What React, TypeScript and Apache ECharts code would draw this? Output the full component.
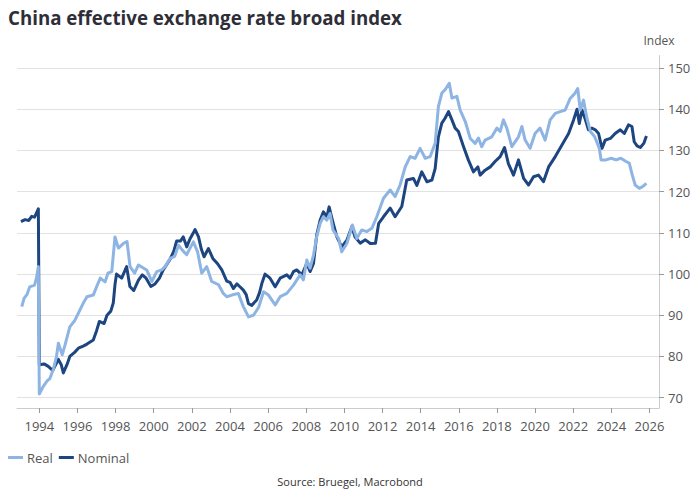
import React, { useEffect, useRef } from "react";
import * as echarts from "echarts";

const realData: [number, number][] = [
  [1993.08, 92.1], [1993.2, 94.1], [1993.35, 95.0], [1993.5, 96.9], [1993.75, 97.3], [1993.85, 99.0], [1993.95, 101.8],
  [1994.0, 70.9], [1994.2, 72.7], [1994.4, 74.0], [1994.56, 74.7], [1994.75, 77.1], [1994.9, 80.0], [1995.0, 83.2],
  [1995.2, 80.4], [1995.35, 82.8], [1995.6, 87.2], [1995.87, 88.8], [1996.05, 90.5], [1996.3, 92.9], [1996.5, 94.5],
  [1996.83, 94.9], [1997.04, 97.3], [1997.2, 99.0], [1997.45, 98.1], [1997.6, 100.2], [1997.8, 100.6], [1997.97, 109.0],
  [1998.15, 106.3], [1998.4, 107.4], [1998.6, 107.9], [1998.76, 101.8], [1999.0, 100.2], [1999.2, 102.2], [1999.63, 101.0],
  [1999.9, 98.2], [2000.16, 100.6], [2000.42, 101.0], [2000.6, 101.8], [2000.86, 103.8], [2001.1, 104.3], [2001.3, 107.0],
  [2001.5, 105.8], [2001.73, 104.7], [2002.08, 107.8], [2002.3, 105.4], [2002.52, 100.2], [2002.78, 101.8], [2003.04, 98.2],
  [2003.4, 97.4], [2003.65, 95.3], [2003.83, 94.5], [2004.1, 94.9], [2004.44, 95.3], [2004.7, 92.1], [2004.97, 89.6],
  [2005.23, 90.0], [2005.5, 91.9], [2005.76, 95.7], [2006.02, 94.9], [2006.37, 92.5], [2006.63, 94.5], [2006.98, 95.3],
  [2007.33, 97.3], [2007.68, 99.8], [2007.85, 98.6], [2008.03, 103.4], [2008.2, 101.4], [2008.38, 104.6], [2008.55, 109.1],
  [2008.73, 112.3], [2008.9, 113.9], [2009.08, 113.1], [2009.25, 114.7], [2009.4, 110.7], [2009.7, 108.6], [2009.86, 105.4],
  [2010.13, 107.4], [2010.42, 111.9], [2010.65, 108.6], [2010.91, 110.7], [2011.18, 110.3], [2011.44, 111.1], [2011.7, 113.9],
  [2012.05, 118.4], [2012.4, 120.4], [2012.66, 118.8], [2012.92, 121.6], [2013.19, 126.0], [2013.45, 128.5], [2013.71, 128.1],
  [2013.97, 130.5], [2014.24, 128.1], [2014.5, 128.5], [2014.76, 131.7], [2014.93, 140.6], [2015.11, 143.9], [2015.28, 144.7],
  [2015.5, 146.3], [2015.64, 142.7], [2015.9, 143.1], [2016.07, 139.8], [2016.34, 137.0], [2016.6, 132.9], [2016.86, 131.7],
  [2017.03, 133.0], [2017.2, 130.9], [2017.38, 132.5], [2017.73, 133.3], [2018.0, 135.4], [2018.17, 134.6], [2018.34, 137.4],
  [2018.52, 135.4], [2018.78, 130.9], [2019.13, 133.3], [2019.31, 135.8], [2019.48, 132.5], [2019.74, 130.5], [2020.0, 134.1],
  [2020.26, 135.4], [2020.53, 132.5], [2020.79, 137.4], [2021.06, 139.0], [2021.32, 139.4], [2021.58, 139.8], [2021.84, 142.6],
  [2022.1, 143.9], [2022.24, 145.0], [2022.37, 139.8], [2022.54, 142.2], [2022.72, 137.8], [2022.9, 134.6], [2023.1, 133.5],
  [2023.2, 132.5], [2023.37, 130.5], [2023.46, 127.7], [2023.72, 127.7], [2023.99, 128.1], [2024.25, 127.7], [2024.5, 128.1],
  [2024.77, 127.3], [2024.94, 126.9], [2025.1, 124.0], [2025.25, 121.6], [2025.47, 120.8], [2025.64, 121.2], [2025.84, 122.0],
];

const nominalData: [number, number][] = [
  [1993.04, 112.7], [1993.25, 113.2], [1993.45, 113.0], [1993.6, 114.0], [1993.75, 113.8], [1993.95, 115.8],
  [1994.0, 78.0], [1994.25, 78.2], [1994.47, 77.6], [1994.7, 76.6], [1995.0, 79.3], [1995.15, 78.0], [1995.26, 76.0],
  [1995.45, 78.0], [1995.6, 80.0], [1995.85, 81.0], [1996.05, 82.0], [1996.3, 82.5], [1996.5, 83.0], [1996.83, 84.0],
  [1997.0, 86.2], [1997.15, 88.5], [1997.4, 88.0], [1997.55, 90.0], [1997.75, 91.0], [1997.88, 93.0], [1997.97, 97.5],
  [1998.05, 100.0], [1998.32, 99.0], [1998.58, 101.8], [1998.75, 97.0], [1998.95, 96.0], [1999.2, 98.5], [1999.4, 99.8],
  [1999.6, 99.0], [1999.85, 97.0], [2000.07, 97.6], [2000.3, 99.0], [2000.5, 101.0], [2000.86, 103.6], [2001.05, 105.5],
  [2001.2, 108.0], [2001.4, 108.0], [2001.55, 109.0], [2001.73, 106.6], [2001.9, 108.5], [2002.08, 110.0], [2002.17, 110.8],
  [2002.35, 109.0], [2002.5, 106.0], [2002.64, 104.2], [2002.87, 106.2], [2003.1, 103.8], [2003.35, 102.5], [2003.57, 101.0],
  [2003.83, 98.3], [2004.0, 98.0], [2004.18, 96.5], [2004.36, 97.6], [2004.55, 96.8], [2004.7, 96.1], [2004.85, 95.0],
  [2004.97, 92.8], [2005.14, 92.4], [2005.4, 93.7], [2005.55, 95.5], [2005.67, 97.7], [2005.84, 100.0], [2006.1, 99.0],
  [2006.37, 96.9], [2006.63, 99.0], [2006.98, 99.8], [2007.15, 99.0], [2007.33, 100.6], [2007.5, 101.0], [2007.77, 99.8],
  [2008.03, 102.6], [2008.2, 100.6], [2008.38, 102.6], [2008.55, 109.5], [2008.73, 113.1], [2008.9, 115.1], [2009.08, 113.9],
  [2009.2, 116.3], [2009.37, 113.1], [2009.6, 109.1], [2009.86, 106.6], [2010.13, 108.2], [2010.39, 111.5], [2010.56, 109.0],
  [2010.83, 107.5], [2011.1, 108.3], [2011.36, 107.4], [2011.63, 107.5], [2011.8, 112.3], [2012.05, 113.9], [2012.4, 116.0],
  [2012.66, 113.9], [2013.01, 116.4], [2013.27, 122.8], [2013.62, 123.2], [2013.8, 121.5], [2014.06, 124.8], [2014.33, 122.4],
  [2014.59, 122.8], [2014.76, 125.6], [2014.93, 133.3], [2015.11, 136.6], [2015.28, 137.8], [2015.46, 139.4], [2015.64, 137.4],
  [2015.81, 135.4], [2015.98, 134.6], [2016.25, 130.9], [2016.5, 127.7], [2016.77, 124.8], [2017.0, 126.0], [2017.12, 124.0],
  [2017.38, 125.2], [2017.65, 126.0], [2017.9, 127.3], [2018.17, 128.5], [2018.4, 130.7], [2018.6, 126.8], [2018.87, 124.0],
  [2019.13, 127.7], [2019.4, 123.2], [2019.66, 121.6], [2019.92, 123.6], [2020.18, 124.0], [2020.44, 122.4], [2020.71, 126.0],
  [2021.06, 128.5], [2021.41, 131.3], [2021.76, 134.1], [2022.02, 137.4], [2022.2, 140.0], [2022.32, 136.5], [2022.46, 139.8],
  [2022.63, 137.6], [2022.8, 135.0], [2022.98, 135.4], [2023.16, 135.0], [2023.33, 134.1], [2023.51, 130.5], [2023.68, 132.5],
  [2023.95, 132.9], [2024.2, 134.1], [2024.47, 135.0], [2024.68, 134.1], [2024.9, 136.2], [2025.08, 135.8], [2025.2, 132.1],
  [2025.35, 131.1], [2025.52, 130.7], [2025.7, 131.7], [2025.84, 133.5],
];

const xTickYears = [1994, 1996, 1998, 2000, 2002, 2004, 2006, 2008, 2010, 2012, 2014, 2016, 2018, 2020, 2022, 2024, 2026];
const yTickValues = [70, 80, 90, 100, 110, 120, 130, 140, 150];

const FONT = "'Open Sans', 'Noto Sans', sans-serif";

export default function App() {
  const ref = useRef<HTMLDivElement>(null);
  useEffect(() => {
    if (!ref.current) return;
    const chart = echarts.init(ref.current, null, { renderer: "svg" });
    chart.setOption({
      animation: false,
      backgroundColor: "#ffffff",
      textStyle: { fontFamily: FONT },
      title: [
        {
          text: "China effective exchange rate broad index",
          left: 8,
          top: 8,
          padding: 0,
          textStyle: { fontFamily: FONT, fontSize: 18.7, fontWeight: "bold", color: "#2e2e38" },
        },
        {
          text: "Source: Bruegel, Macrobond",
          left: "center",
          top: 476,
          padding: 0,
          textStyle: { fontFamily: FONT, fontSize: 11, fontWeight: "normal", color: "#333333" },
        },
      ],
      legend: {
        left: 8,
        top: 451,
        padding: 0,
        icon: "rect",
        itemWidth: 15,
        itemHeight: 3,
        itemGap: 6,
        textStyle: { fontFamily: FONT, fontSize: 13, color: "#555555", padding: [0, 0, 0, -1] },
        data: ["Real", "Nominal"],
      },
      grid: { left: 17, right: 41, top: 55.6, bottom: 92, containLabel: false },
      xAxis: {
        type: "value",
        min: 1992.83,
        max: 2026.5,
        axisLine: { show: true, onZero: false, lineStyle: { color: "#cccccc", width: 1 } },
        axisTick: { show: true, customValues: xTickYears, length: 5, lineStyle: { color: "#999999" } },
        axisLabel: {
          customValues: xTickYears,
          color: "#555555",
          fontSize: 13,
          margin: 11,
          fontFamily: FONT,
          formatter: (v: number) => String(Math.round(v)),
        },
        splitLine: { show: false },
      },
      yAxis: {
        type: "value",
        position: "right",
        min: 67.5,
        max: 153,
        name: "Index",
        nameLocation: "end",
        nameGap: 9,
        nameTextStyle: { color: "#555555", fontSize: 12, fontFamily: FONT, align: "center" },
        axisLine: { show: true, lineStyle: { color: "#cccccc", width: 1 } },
        axisTick: { show: true, customValues: yTickValues, length: 5, lineStyle: { color: "#999999" } },
        axisLabel: {
          customValues: yTickValues,
          color: "#555555",
          fontSize: 13,
          margin: 9,
          fontFamily: FONT,
          formatter: (v: number) => String(Math.round(v)),
        },
        splitLine: { show: true, lineStyle: { color: "#e2e2e2", width: 1 } },
      },
      series: [
        {
          name: "Nominal",
          type: "line",
          data: nominalData,
          showSymbol: false,
          symbol: "none",
          z: 2,
          lineStyle: { color: "#1d4580", width: 3, join: "round" },
          itemStyle: { color: "#1d4580" },
        },
        {
          name: "Real",
          type: "line",
          data: realData,
          showSymbol: false,
          symbol: "none",
          z: 3,
          lineStyle: { color: "#8db4e3", width: 3, join: "round" },
          itemStyle: { color: "#8db4e3" },
        },
      ],
    });
    return () => chart.dispose();
  }, []);
  return <div ref={ref} style={{ position: "fixed", left: 0, top: 0, width: 700, height: 500 }} />;
}
